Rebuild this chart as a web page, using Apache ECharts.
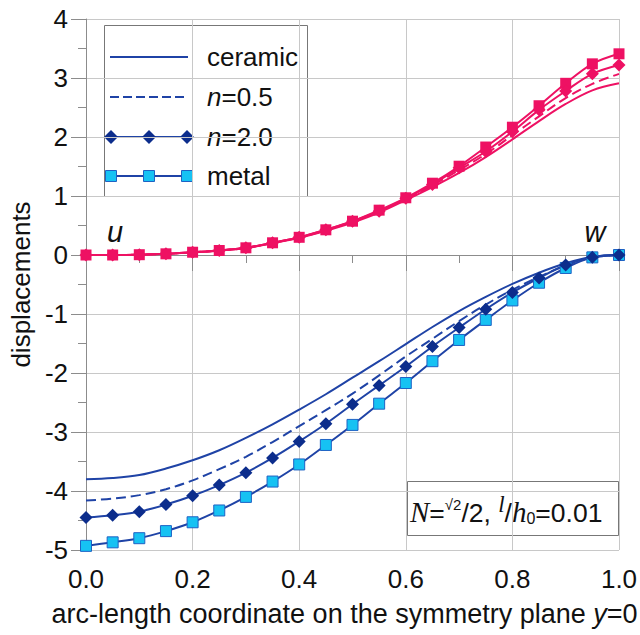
<!DOCTYPE html>
<html><head><meta charset="utf-8">
<script src="https://cdn.jsdelivr.net/npm/echarts@6/dist/echarts.min.js"></script>
<style>html,body{margin:0;padding:0;background:#fff}#c{width:640px;height:635px}</style>
</head><body><div id="c"></div>
<script>
const xs = [0,0.05,0.1,0.15,0.2,0.25,0.3,0.35,0.4,0.45,0.5,0.55,0.6,0.65,0.7,0.75,0.8,0.85,0.9,0.95,1.0];
const uCeramic = [0,0,0.005,0.02,0.045,0.074,0.118,0.2,0.29,0.41,0.55,0.72,0.93,1.15,1.39,1.66,1.96,2.27,2.56,2.79,2.91];
const uN05 = [0,0,0.005,0.02,0.046,0.075,0.12,0.204,0.295,0.42,0.565,0.735,0.95,1.18,1.44,1.71,2.03,2.35,2.66,2.90,3.07];
const uN2 = [0,0,0.005,0.02,0.047,0.076,0.122,0.207,0.30,0.427,0.573,0.742,0.96,1.195,1.478,1.754,2.09,2.46,2.78,3.07,3.22];
const uMetal = [0,0,0.005,0.02,0.047,0.076,0.122,0.207,0.30,0.427,0.573,0.76,0.97,1.217,1.505,1.83,2.166,2.53,2.91,3.24,3.41];
const wCeramic = [-3.80,-3.78,-3.73,-3.62,-3.48,-3.31,-3.10,-2.87,-2.62,-2.36,-2.08,-1.80,-1.51,-1.22,-0.95,-0.71,-0.49,-0.30,-0.14,-0.03,0];
const wN05 = [-4.16,-4.13,-4.07,-3.97,-3.82,-3.63,-3.42,-3.17,-2.90,-2.63,-2.35,-2.04,-1.72,-1.42,-1.12,-0.84,-0.59,-0.37,-0.18,-0.04,0];
const wN2 = [-4.45,-4.41,-4.35,-4.23,-4.08,-3.90,-3.69,-3.44,-3.16,-2.86,-2.53,-2.21,-1.89,-1.55,-1.23,-0.92,-0.635,-0.39,-0.17,-0.04,0];
const wMetal = [-4.93,-4.87,-4.80,-4.68,-4.53,-4.33,-4.10,-3.84,-3.55,-3.22,-2.88,-2.52,-2.17,-1.80,-1.44,-1.10,-0.77,-0.47,-0.22,-0.04,0];
const xTicks = ['0.0','0.2','0.4','0.6','0.8','1.0'];
const legendNames = ['ceramic','{i|n}=0.5','{i|n}=2.0','metal'];

const PINK = '#EE1163', BLUE = '#1F43A6', NAVY = '#0C2D8C', CYAN = '#16C2F3';
const FONT = 'Liberation Sans, Arial, sans-serif';
const pairs = ys => xs.map((x,i)=>[x, ys[i]]);

const chart = echarts.init(document.getElementById('c'), null, {renderer:'svg'});
function lineS(name, ys, color, opts) {
  return Object.assign({
    name, type:'line', data: pairs(ys), smooth: 0.35, showSymbol:false, symbol:'none',
    lineStyle:{color, width:2}, itemStyle:{color}, animation:false, silent:true
  }, opts||{});
}
const series = [
  lineS('u ceramic', uCeramic, PINK),
  lineS('u n05', uN05, PINK, {lineStyle:{color:PINK,width:2,type:[10,5]}}),
  lineS('u metal', uMetal, PINK, {showSymbol:true, symbol:'rect', symbolSize:11, showAllSymbol:true}),
  lineS('u n2', uN2, PINK, {showSymbol:true, symbol:'diamond', symbolSize:13, showAllSymbol:true}),
  lineS('w ceramic', wCeramic, BLUE),
  lineS('w n05', wN05, BLUE, {lineStyle:{color:BLUE,width:2,type:[10,5]}}),
  lineS('w metal', wMetal, BLUE, {showSymbol:true, symbol:'rect', symbolSize:11, showAllSymbol:true, itemStyle:{color:CYAN, borderColor:'#1E62C4', borderWidth:1}}),
  lineS('w n2', wN2, BLUE, {showSymbol:true, symbol:'diamond', symbolSize:13, showAllSymbol:true, itemStyle:{color:NAVY}})
];

// legend drawn as graphics
const LX0 = 110, LX1 = 188, rows = [57,97,137,176];
const legendG = [
  {type:'rect', shape:{x:104.5,y:25.5,width:203,height:171}, style:{fill:'#fff', stroke:'#777', lineWidth:1}},
  {type:'line', shape:{x1:LX0,y1:rows[0],x2:LX1,y2:rows[0]}, style:{stroke:BLUE, lineWidth:2}},
  {type:'line', shape:{x1:LX0,y1:rows[1],x2:LX1,y2:rows[1]}, style:{stroke:BLUE, lineWidth:2, lineDash:[9,4]}},
  {type:'line', shape:{x1:LX0,y1:rows[2],x2:LX1,y2:rows[2]}, style:{stroke:BLUE, lineWidth:2}},
  {type:'line', shape:{x1:LX0,y1:rows[3],x2:LX1,y2:rows[3]}, style:{stroke:BLUE, lineWidth:2}}
];
[LX0+1, (LX0+LX1)/2, LX1-1].forEach(cx => {
  legendG.push({type:'polygon', shape:{points:[[cx,rows[2]-7],[cx+7,rows[2]],[cx,rows[2]+7],[cx-7,rows[2]]]}, style:{fill:NAVY}});
  legendG.push({type:'rect', shape:{x:cx-5.5,y:rows[3]-5.5,width:11,height:11}, style:{fill:CYAN, stroke:'#1E62C4', lineWidth:1}});
});
legendNames.forEach((t,i) => {
  legendG.push({type:'text', x:207, y:rows[i], style:{text:t, fill:'#111', font:'26px '+FONT, verticalAlign:'middle', align:'left',
    rich:{i:{fontStyle:'italic', fontSize:26, fontFamily:FONT, fill:'#111'}}}});
});

const graphic = [
  {type:'group', z:100, children: legendG},
  {type:'group', z:100, children: [
    {type:'rect', shape:{x:407.5,y:481.5,width:211,height:54}, style:{fill:'#fff', stroke:'#777', lineWidth:1}},
    {type:'text', x:410, y:509, style:{
      text:'{N|N}{e|=}{sup|√2}{e|/2, }{l|l}{e|/}{h|h}{sub|0}{e|=0.01}',
      verticalAlign:'middle', align:'left', fill:'#111', font:'26px '+FONT, lineHeight:34,
      rich:{
        N:{fontFamily:'Liberation Serif, serif', fontStyle:'italic', fontSize:29, fill:'#111', verticalAlign:'bottom', lineHeight:34},
        e:{fontFamily:FONT, fontSize:26.5, fill:'#111', verticalAlign:'bottom', lineHeight:34},
        sup:{fontFamily:FONT, fontSize:15, fill:'#111', verticalAlign:'top', padding:[5,0,0,0]},
        l:{fontFamily:'Liberation Serif, serif', fontStyle:'italic', fontSize:23, fill:'#111', verticalAlign:'top', padding:[1,0,0,0]},
        h:{fontFamily:'Liberation Serif, serif', fontStyle:'italic', fontSize:29, fill:'#111', verticalAlign:'bottom', lineHeight:34},
        sub:{fontFamily:FONT, fontSize:16, fill:'#111', verticalAlign:'bottom', padding:[0,0,0,0]}
      }}}
  ]},
  {type:'text', x:115, y:232, z:100, style:{text:'u', fill:'#111', font:'italic 29px '+FONT, align:'center', verticalAlign:'middle'}},
  {type:'text', x:595, y:232, z:100, style:{text:'w', fill:'#111', font:'italic 29px '+FONT, align:'center', verticalAlign:'middle'}}
];

chart.setOption({
  animation:false,
  backgroundColor:'#fff',
  grid:{left:86, right:21, top:19, bottom:85, containLabel:false, outerBoundsMode:'none'},
  xAxis:{type:'value', min:0, max:1, interval:0.2,
    name:'arc-length coordinate on the symmetry plane {i|y}=0', nameLocation:'middle', nameGap:50,
    nameTextStyle:{fontFamily:FONT, fontSize:27, color:'#111', padding:[0,16,0,0], rich:{i:{fontStyle:'italic', fontFamily:FONT, fontSize:27, color:'#111'}}},
    axisLine:{lineStyle:{color:'#8c8c8c', width:1}},
    axisTick:{show:true, inside:false, length:16, lineStyle:{color:'#8c8c8c'}},
    minorTick:{show:true, splitNumber:2, length:8, lineStyle:{color:'#8c8c8c'}},
    axisLabel:{margin:16, fontFamily:FONT, fontSize:26, color:'#111', formatter:(v)=>xTicks[Math.round(v/0.2)]},
    splitLine:{show:true, lineStyle:{color:'#c8c8c8', width:1}}
  },
  yAxis:{type:'value', min:-5, max:4, interval:1,
    name:'displacements', nameLocation:'middle', nameGap:51,
    nameTextStyle:{fontFamily:FONT, fontSize:26, color:'#111'},
    axisLine:{show:true, lineStyle:{color:'#8c8c8c', width:1}},
    axisTick:{show:true, inside:false, length:15, lineStyle:{color:'#8c8c8c'}},
    minorTick:{show:true, splitNumber:2, length:8, lineStyle:{color:'#8c8c8c'}},
    axisLabel:{margin:18, fontFamily:FONT, fontSize:26, color:'#111'},
    splitLine:{show:true, lineStyle:{color:'#c8c8c8', width:1}}
  },
  series,
  graphic
});
</script></body></html>
